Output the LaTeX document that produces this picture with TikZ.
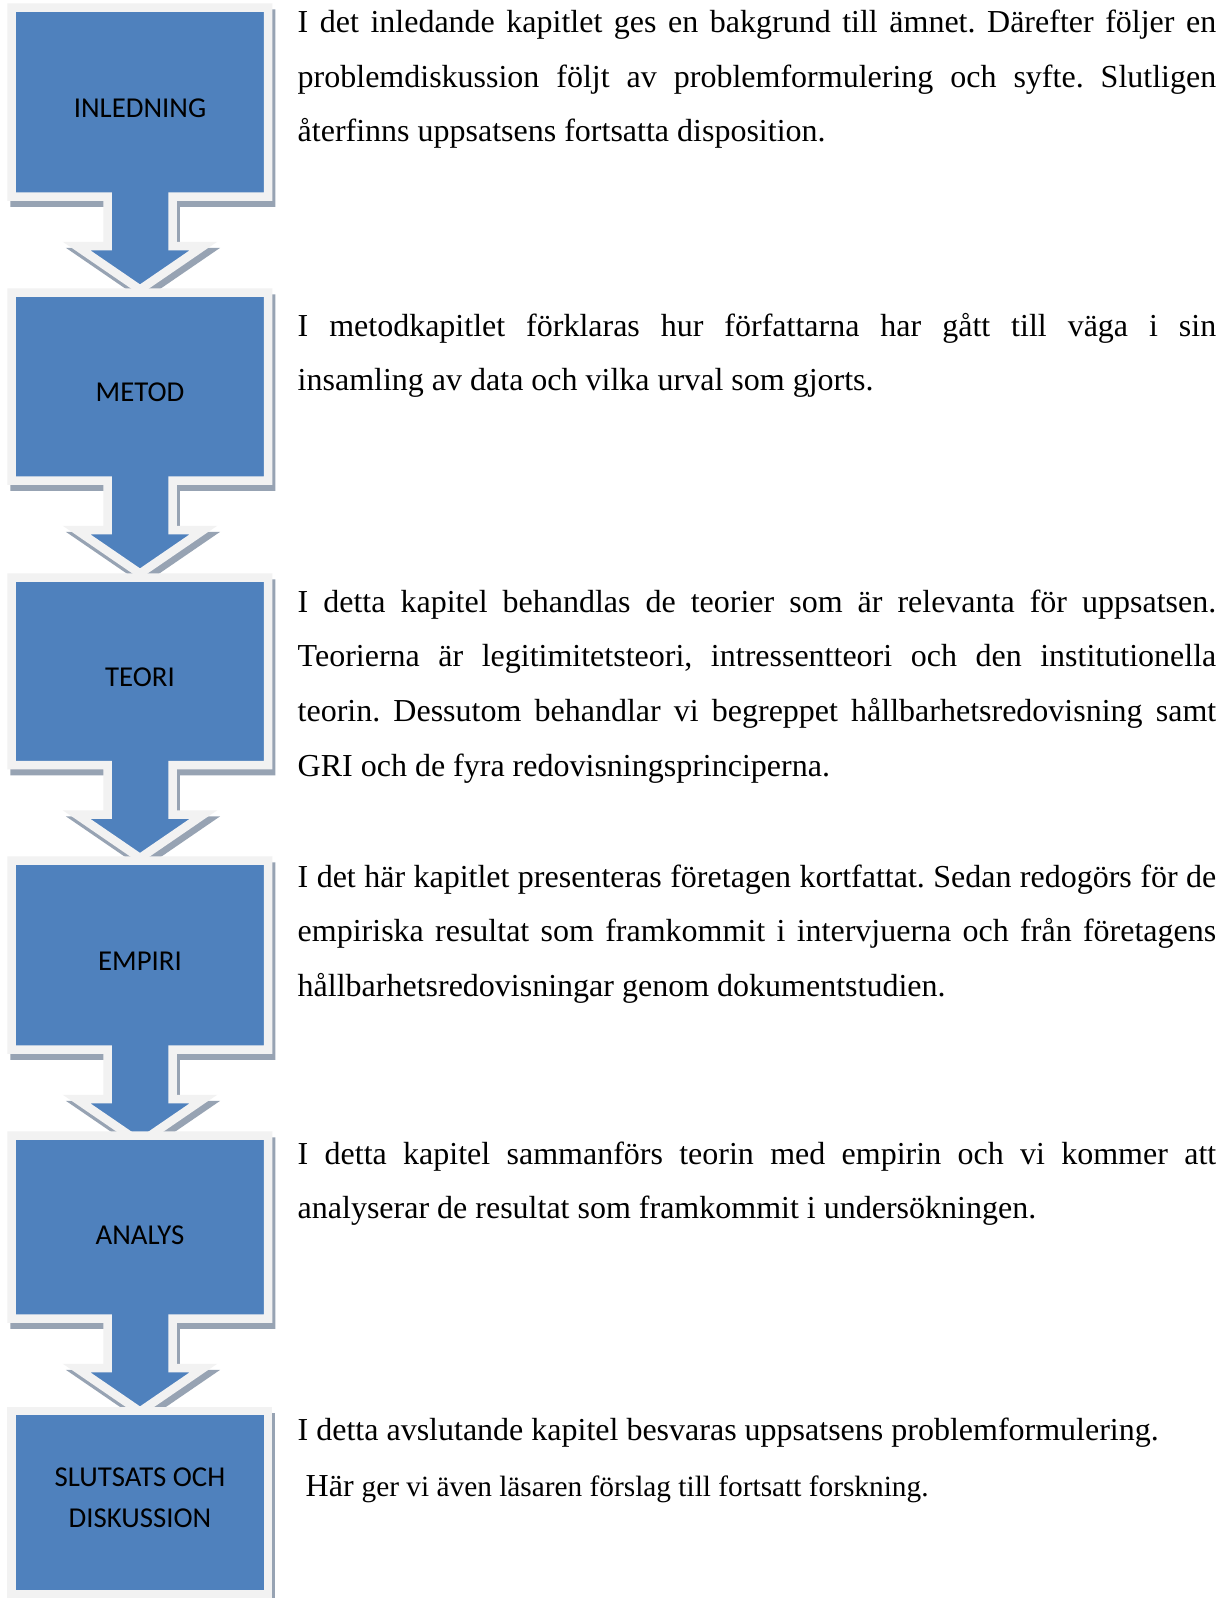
\documentclass[tikz,border=0pt]{standalone}
\usepackage{fontspec}
\setmainfont{Liberation Serif}
\newfontfamily\boxfont{Carlito}
\definecolor{boxblue}{HTML}{4F81BD}
\definecolor{boxborder}{HTML}{F2F2F2}
\definecolor{boxshadowc}{RGB}{151,163,179}
\newcommand{\parset}{\frenchspacing\tolerance=10000\relax\hyphenpenalty=10000\relax\strut}
\tikzset{
  shapeborder/.style={fill=boxblue, draw=boxborder, line width=8.5pt, line join=miter},
  shapeshadow/.style={fill=boxshadowc, draw=boxshadowc, line width=8.5pt, line join=miter},
  arrowpath/.style 2 args={insert path={(11.5,#1) -- (268,#1) -- (268,#2) -- (172.5,#2) -- (172.5,#2+49.5) -- (203.5,#2+49.5) -- (140,#2+93) -- (76.5,#2+49.5) -- (107.5,#2+49.5) -- (107.5,#2) -- (11.5,#2) -- cycle}},
  lbl/.style={font=\boxfont\fontsize{28.8}{34}\selectfont, inner sep=0pt, anchor=base, text=black},
  para/.style={anchor=north west, inner sep=0pt, text width=918.5pt, align=justify,
    font=\fontsize{32}{54.7}\selectfont}
}
\newcommand{\drawarrowbox}[2]{%
  \path[shapeshadow, shift={(3,6)}, arrowpath={#1}{#2}];
  \path[shapeborder, arrowpath={#1}{#2}];
}
\begin{document}
\begin{tikzpicture}[x=1pt,y=-1pt]
\useasboundingbox (0,0) rectangle (1228,1598);
\fill[white] (0,0) rectangle (1228,1598);

\drawarrowbox{7.5}{196.5}
\drawarrowbox{292.5}{480.5}
\drawarrowbox{577.5}{765}
\drawarrowbox{860.5}{1049.5}
\drawarrowbox{1135.5}{1318.5}
\path[shapeshadow] (14.5,1417) rectangle (271,1600.5);
\path[shapeborder] (11.5,1411) rectangle (268,1594.5);

\node[lbl] (inledning) at (140,117.5) {INLEDNING};
\node[lbl] (metod) at (140,401.5) {METOD};
\node[lbl] (teori) at (140,686) {TEORI};
\node[lbl] (empiri) at (140,970) {EMPIRI};
\node[lbl] (analys) at (140,1244) {ANALYS};
\node[lbl] (slutsats) at (140,1486) {SLUTSATS OCH};
\node[lbl] (diskussion) at (140,1527.7) {DISKUSSION};

\node[para] (p1) at (297.5,32.3-38.29) {\parset I det inledande kapitlet ges en bakgrund till ämnet. Därefter följer en\linebreak problemdiskussion följt av problemformulering och syfte. Slutligen\linebreak återfinns uppsatsens fortsatta disposition.};
\node[para] (p2) at (297.5,336-38.29) {\parset I metodkapitlet förklaras hur författarna har gått till väga i sin\linebreak insamling av data och vilka urval som gjorts.};
\node[para] (p3) at (297.5,612-38.29) {\parset I detta kapitel behandlas de teorier som är relevanta för uppsatsen.\linebreak Teorierna är legitimitetsteori, intressentteori och den institutionella\linebreak teorin. Dessutom behandlar vi begreppet hållbarhetsredovisning samt\linebreak GRI och de fyra redovisningsprinciperna.};
\node[para] (p4) at (297.5,887-38.29) {\parset I det här kapitlet presenteras företagen kortfattat. Sedan redogörs för de\linebreak empiriska resultat som framkommit i intervjuerna och från företagens\linebreak hållbarhetsredovisningar genom dokumentstudien.};
\node[para] (p5) at (297.5,1164-38.29) {\parset I detta kapitel sammanförs teorin med empirin och vi kommer att\linebreak analyserar de resultat som framkommit i undersökningen.};
\node[para] (p6) at (297.5,1440.7-38.29) {\parset I detta avslutande kapitel besvaras uppsatsens problemformulering.\\[1.3pt]\hspace*{8pt}Här {\fontsize{29.33}{54.7}\selectfont ger vi även läsaren förslag till fortsatt forskning.}};
\end{tikzpicture}
\end{document}
